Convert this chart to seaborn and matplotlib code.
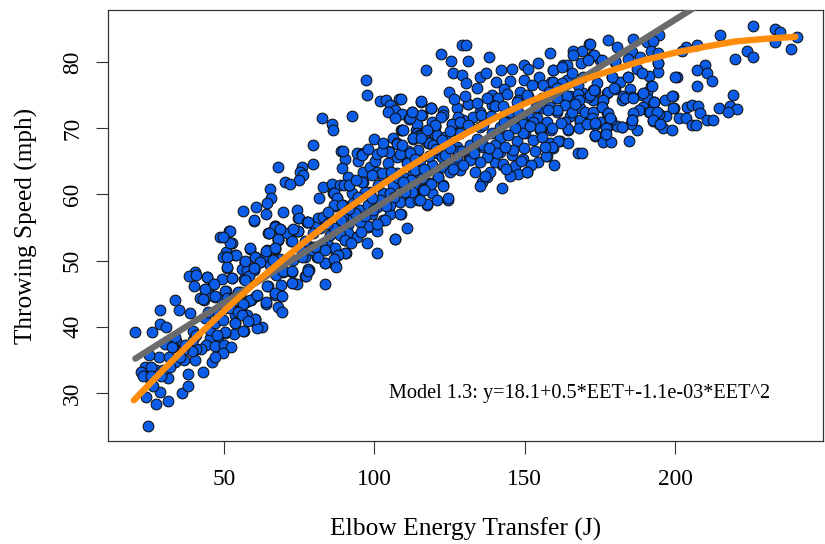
#!/usr/bin/env python3
import pandas as pd
import matplotlib
matplotlib.use("Agg")
import matplotlib.pyplot as plt
import seaborn as sns

# (elbow energy transfer, throwing speed), by region
low_eet = [
    (24.7, 25.0), (20.5, 39.2), (26.2, 39.2), (28.6, 42.5), (33.8, 44.1), (35, 42.6), (38.8, 42.1), (28.6, 40.4),
    (30.6, 40), (39.7, 39.4), (34.1, 37.9), (27.5, 28.4), (31.3, 28.8), (36.1, 30), (38, 31), (28.6, 30.2),
    (23.9, 29.4), (43, 33.2), (38, 32.8), (31.3, 32.2), (24.1, 33), (27.5, 33.5), (46, 34.7), (40.2, 35),
    (36.7, 35), (28.2, 35.5), (25.2, 35.8), (31.6, 35.4), (23.6, 34), (22.5, 33.2), (25.6, 31.5), (26.4, 31),
    (29.7, 33.5), (33.6, 34.7), (51.8, 54.4), (48.5, 53.6), (50.2, 53.6), (52.2, 52.6), (58.7, 51.8), (50.7, 51.3),
    (49.6, 50.6), (51.1, 50.6), (53.8, 50.8), (56.8, 49.8), (51.1, 48.9), (40.4, 48.3), (38.3, 47.6), (40.8, 47.8),
    (44.3, 47.5), (52.7, 47.4), (49.3, 47.2), (46.3, 46.5), (40, 46.2), (43.8, 45.7), (50.7, 45.4), (41.9, 44.3),
    (43.2, 44.1), (46.9, 44.5), (48.5, 44.3), (45.7, 44.8), (56.3, 48.8), (59.8, 48.7), (57.9, 47.6), (56.6, 47.2),
    (64.6, 46.1), (66.8, 51.8), (59.8, 56), (64.9, 54.1), (68.5, 54.6), (67.9, 53.1), (72.3, 52.9), (74.6, 54.4),
    (66.8, 55.2), (72.9, 50.1), (69.6, 49.8), (66.6, 49.8), (63.5, 50.6), (64, 51.3), (62.1, 49.8), (60.2, 50.6),
    (72.7, 48.3), (69, 46.3), (69.6, 48.3), (72.9, 46.6), (74.3, 46.5), (76.8, 47.6), (77.9, 48.6), (67.4, 47.8),
    (69, 44.7), (66.8, 44.8), (63.8, 43.5), (67.9, 43), (69.2, 42.3), (60.7, 44.7), (59, 44.1), (57.4, 43.8),
    (55.7, 42.9), (53.5, 41.8), (57, 41.8), (60.2, 41.2), (58.3, 41), (53.5, 40.5), (62.7, 40), (60.9, 39.8),
    (56.6, 39.3), (53.3, 38.9), (50.2, 39.1), (48, 38.4), (45.2, 38.3), (44.1, 37.2), (47.1, 37.1), (50, 37.2),
    (52.2, 37), (49.6, 36.1), (47.1, 35.4), (42.4, 36.7), (40.8, 36.7), (39.3, 36.4), (36.3, 36.5), (33, 37),
    (30.2, 37.4), (43.5, 41.3), (48, 42), (50.7, 42.8), (54.1, 44), (55.7, 45.3),
    (32.8, 37), (36.9, 37.2), (35.2, 35.5), (25.8, 34), (31.9, 34), (23, 32.5), (29.1, 32.5), (25.8, 32.5),
    (39.7, 38), (45.2, 39.5), (40.8, 38.8), (46.9, 40.5), (49.6, 41), (44.6, 42.3), (33.6, 38.5),
    (57, 49.8), (55.9, 48.8), (57.5, 48.6), (59.8, 48.6), (58.3, 47.7), (56.8, 47.1), (52.8, 47.4), (44.2, 47.5),
    (46.5, 46.5), (43.7, 45.7), (47, 44.6), (43.1, 44.2), (50.3, 45.4), (50.9, 44.3), (54.8, 45.3), (53.1, 44.3),
    (58.6, 44), (60.9, 44.8), (56.4, 43.5), (63.9, 43.7), (52, 42.8), (54.8, 42.3), (57.5, 41.8), (60.3, 41.2),
    (55.9, 41.8), (53.7, 40.5), (58.1, 40.9), (56.4, 39.3), (50.3, 39.2), (47.6, 38.8), (64.2, 46.1), (66.9, 45.1),
    (69.2, 44.6), (72.5, 46.6), (69.7, 48.4), (72.5, 48.4), (77.3, 47.7), (78.4, 48.6), (76.9, 50.6), (81, 50.6),
    (83.6, 49.6), (83.6, 46.5), (75.8, 51.4), (79.1, 52.1), (82.5, 51.6), (84.7, 52.4), (81.9, 54.9), (77.5, 55.9),
    (74.7, 56.4), (80.8, 55.9), (73, 54.6), (68, 53.1), (64.7, 54.1), (68.6, 54.8), (67, 55.3), (71, 54.1),
    (66.9, 51.9), (63.6, 50.6), (60.3, 50.6), (64.2, 51.6), (62, 49.8), (68.6, 50.3), (65.3, 49.3), (52.5, 52.6),
]
mid_eet = [
    (82.7, 71.5), (92.5, 71.8), (85.8, 70.6), (86.3, 69.8), (79.7, 67.5), (100, 68.4), (106.3, 68.5), (109, 69.8),
    (88.9, 66.5), (90.2, 65.3), (79.7, 64.6), (67.8, 64.1), (75.8, 64.2), (75.3, 63.4), (76.4, 62.9), (75, 62.2),
    (70.3, 61.8), (71.9, 61.6), (65.3, 60.8), (65.5, 59.4), (64.4, 58.7), (81.6, 59.4), (83, 61.1), (86, 61.6),
    (56.4, 57.5), (60.5, 58.1), (63.9, 57.1), (60, 56.1), (69.5, 57.3), (74.4, 57.7), (74.9, 56.5), (77.7, 55.9),
    (81.4, 56.4), (83, 56.6), (67, 55.1), (68.6, 54.7), (65, 54.1), (68, 53.2), (72.5, 52.9), (74.7, 54.5),
    (72.8, 54.7), (80.3, 55.1), (52, 54.4), (52, 52.6), (58.6, 51.9), (53.9, 50.8), (50.9, 50.6), (49.8, 53.6),
    (60.3, 50.6), (64, 51.4), (67, 51.9), (62, 49.8), (57, 49.9), (59.8, 48.9), (66.4, 50.1), (50.9, 49.1),
    (111, 54.9), (107, 53.3), (101, 51.1), (97.4, 52.6), (90.6, 51.2), (87.5, 50.8), (81, 50.6), (83.6, 49.7),
    (86.9, 49.3), (78, 48.7), (75.8, 50.6), (79.1, 51.6), (82.5, 52.4), (86.9, 51.6), (90.2, 53.1), (93.9, 53.6),
    (98, 55.1), (100.8, 54.5), (103, 56.1), (105.2, 57), (108.7, 57), (99.1, 57.1), (95.2, 56.4), (91.3, 55.4),
    (87.5, 54.9), (85.2, 53.9), (86.3, 60.2), (87.7, 59.4), (86.9, 58.2), (89.7, 58.4), (92.4, 60.2), (91.7, 61.4),
    (88.6, 61.4), (91.3, 62.7), (96.1, 63.4), (96.1, 61.8), (98.5, 64.2), (100.2, 65), (94.7, 65), (94.3, 66.2),
    (96.3, 66.2), (100.7, 66.1), (104.6, 66.5), (107.4, 67.7), (107.6, 65.7), (110.7, 65), (104.6, 64.7), (100.7, 63.4),
    (103, 62.4), (107.4, 63.2), (110.2, 62.4), (106.3, 61.4), (98.5, 60.4), (96.9, 60.4), (103, 60.2), (93, 58.7),
    (95.2, 57.7), (89.7, 56.6), (108.5, 58.9), (111.8, 59.2), (114, 59.4), (113.5, 61.4), (105.2, 58.4), (100.8, 58.1),
    (114, 69.7), (113, 68.5), (97.2, 77.3), (97.7, 75), (101.9, 74.1), (103.9, 74.3), (105.2, 73.5), (108.2, 74.4),
    (106.9, 72.8), (104.4, 72.4), (109.1, 72.1), (106.9, 71.5), (111.6, 71.4), (115.4, 74), (118.7, 73.1), (115.7, 72),
    (112.4, 72.5), (114.1, 70.7), (109.1, 69.8), (120.2, 70.4), (114.3, 69.2), (120.2, 69), (114.8, 69), (112.7, 68.4),
    (117.9, 67.7), (107.6, 67.6), (111.3, 66.5), (114.6, 66.7), (108.5, 66.1), (105, 66.4), (102.4, 66.5), (95.8, 66.1),
    (89.5, 66.5), (120.7, 66.2), (116.8, 68.2),
    (89.1, 64), (95.8, 65.9), (102.4, 63.2), (108, 62.4), (113, 63.2), (99.1, 62.9), (89.9, 61.4), (91.6, 61.4),
    (95.8, 61.8), (86.4, 60.2), (87.5, 59.4), (86.4, 58.4), (89.1, 58.4), (98, 58.4), (101.9, 59.2), (105.2, 60.2),
    (108.5, 57), (99.6, 57.6), (111.8, 58.9), (116.3, 60.7), (114.6, 59.2), (117.4, 58.4), (78, 55.9), (98, 55.2),
    (91.3, 54.1), (94.1, 53.6), (88.6, 53.9), (86.4, 54.9), (90.2, 53.1), (106.8, 53.2), (86.9, 51.9), (90.2, 51.1),
    (88, 50.8), (86.4, 50.3), (81.4, 50.6), (87.2, 49.1), (78, 48.5), (83.6, 51.6), (80.3, 52.1), (77, 52.9),
    (79.7, 54.1), (93, 56.4), (95.2, 55.9), (103.5, 56.1),
    (93.5, 57.2), (96.8, 56.8), (101, 55.6), (92.2, 52.6), (95.4, 54.3), (84.2, 55.6), (88.8, 56.2), (91.6, 57.8),
    (94.6, 59.6), (99.2, 59.5), (104, 58.2), (106.6, 59.6), (110, 60.8), (112.2, 62.2), (105.5, 63.4), (101.2, 61.4),
    (93.8, 62.2), (98, 66.8), (103, 67.8), (84.5, 57.4),
]
high_eet = [
    (129, 82.5), (130.4, 82.5), (122, 81.2), (125.5, 80.2), (131.2, 80.1), (138.2, 80.7), (158.4, 81.3), (117.2, 78.8),
    (171.5, 82.7), (166.1, 81.7), (168.9, 81.6), (126, 78.3), (129, 78), (130.5, 76.8), (135.1, 77.7), (137, 78.3),
    (134.2, 76), (142.1, 78.8), (145.9, 78.9), (124.7, 75.4), (140.3, 77), (145.1, 77.2), (149.8, 79.5), (151, 79),
    (154.3, 79.8), (149.7, 77.3), (154.7, 77.8), (159.5, 78.8), (162.8, 79.5), (164.1, 79.6), (168.7, 79.9), (166.1, 81),
    (172.8, 80.9), (158.9, 77), (156.2, 76.5), (152.3, 76.5), (148.4, 75.5), (143.1, 75.9), (139, 75), (141.2, 74.5),
    (139, 73.5), (147.9, 74.2), (131.2, 73.7), (127.4, 73), (122.9, 72.6), (118.7, 73.1), (115.4, 74.1), (108.8, 74.4),
    (111.9, 71.5), (115.4, 72), (112.4, 72.5), (109.4, 69.7), (119, 71), (120.2, 70.2), (122.9, 72), (125.7, 70.7),
    (129.6, 71.2), (135.1, 72.5), (131.8, 70.2), (125.7, 69.7), (120.7, 69), (115.2, 68.8), (113, 68.5), (118, 67.8),
    (123.5, 68.7), (128.5, 69.2), (135.1, 70.2), (139, 69.2), (141.8, 68.5), (147.3, 68), (150.1, 69.2), (155.1, 69.8),
    (158.9, 69.7), (164.5, 69.8), (165, 71.8), (168.4, 71), (170.6, 70.8), (173.3, 69), (158.4, 67.7), (161.7, 68),
    (164.5, 67.8), (159.5, 67), (167.8, 66.2), (168.9, 66.3), (157.3, 65.8), (154.5, 64.9), (149.5, 65.4), (149.7, 67),
    (145.6, 65.9), (146.8, 64.3), (152, 64.4), (159.7, 64.4), (150.9, 63.4), (147.9, 63.1), (145.1, 62.8), (142.3, 60.9),
    (142.3, 64.4), (140.1, 64.9), (137.3, 65.7), (135.1, 64.9), (131.6, 65.3), (126.3, 64.4), (122.9, 64.2), (119, 64.4),
    (133.5, 63.4), (128.5, 63.7), (125.1, 63.4), (137.3, 62.7), (135.7, 61.9), (135.1, 61.2), (138.4, 63.4), (122.9, 61.4),
    (121.3, 62.7), (118.5, 61.7), (116.3, 60.8), (119, 60.2), (124.6, 59.2), (120.9, 59.2), (117.6, 58.5), (115.2, 59.2),
    (112.4, 60.3), (110.2, 60.3), (109.6, 61.9), (115.7, 62.4), (113.5, 63.7), (110.7, 64.7), (115.2, 65.2), (111.9, 66.2),
    (109.1, 67.5), (119.6, 67.5), (122.4, 65.7), (127.4, 65.7), (136.2, 67.2), (141.8, 66.4), (154, 71.5), (160.6, 72.5),
    (156.2, 73), (165, 74.8), (160.6, 74.5), (155.6, 74.5), (151.2, 74.8), (169.5, 75.3), (172.8, 75.8), (167.8, 76.5),
    (163.9, 77.3), (172.8, 74.3), (168.4, 73), (157.3, 71), (151.2, 72), (145.1, 71.2), (141.8, 70.2), (145.1, 72.5),
    (149, 71.2),
    (118.7, 73), (122, 71.7), (131, 73.6), (127.9, 71.7), (132.9, 71.7), (135.5, 72), (140.1, 73.4), (142.9, 73.3),
    (147.3, 74), (150.6, 75), (125.9, 70.7), (120, 70.5), (117.4, 69.7), (128.5, 71), (131.2, 70.5), (136.2, 70.5),
    (125.2, 69.5), (122.4, 68.2), (115.5, 68.5), (149.5, 70.7), (152.9, 71), (155.1, 70), (149.5, 69.2), (146.8, 70),
    (140.1, 67.5), (136.2, 67.5), (131.8, 67.5), (127.4, 67.2), (123.5, 65.9), (127.9, 66.5), (131.8, 65.2), (140.7, 66.2),
    (146.2, 66.7), (157.1, 65.8), (142.9, 64.6), (150.6, 63.4), (136.8, 62.8), (129.6, 64.4), (116.5, 63.9), (121.3, 62.6),
    (118.7, 61.6), (122.9, 61.2), (126.3, 63.8), (116.5, 60.7), (124.6, 59.4),
    (159.5, 78.8), (162.3, 79.3), (165.6, 78.4), (159.5, 77), (162.3, 76.8), (169.5, 77.8), (164, 74.9), (160.6, 76),
    (167.8, 75.2), (171.2, 74.7), (168.1, 74.2), (158.4, 73.2), (163.4, 73.5), (165.6, 72.5), (160.6, 72.8), (157.6, 72.8),
    (168.4, 71.3), (163.4, 71), (159, 70), (164.3, 69.9), (168.1, 70), (161.2, 68), (159, 67.2),
    (134.2, 68.4), (138, 67), (143.5, 67.2), (144.6, 69), (152.6, 68.2), (155.8, 68.6), (133, 66.3), (129.2, 66.6),
    (125, 67), (120.6, 66.9), (118.2, 65.8), (113.4, 65.4), (143.8, 63.8), (148.8, 65), (153.4, 66.6), (156.6, 67.2),
    (151.6, 70.4), (147.6, 72.4), (143, 71), (138.8, 71.8), (134, 73.8), (137.4, 74.6), (144, 75.2), (153.8, 73.2),
    (158, 75.4), (162, 70.8), (166.8, 73.6), (170.2, 72.4), (130, 74.8), (126.4, 74.4),
]
top_eet = [
    (226, 85.5), (215.1, 84), (233.3, 85), (234.9, 84.6), (240.6, 83.7), (233.3, 83), (238.4, 81.9), (224, 81.7),
    (226, 80.7), (219.9, 80.4), (209.9, 79.6), (207.2, 78.8), (210.7, 78.3), (212.4, 77.1), (200.5, 77.8), (200, 77.8),
    (207.3, 76.3), (207.2, 82.6), (203.8, 82.2), (202.2, 81.7), (194.7, 84), (190.8, 83), (192.8, 83.1), (192, 81.7),
    (185.9, 83.4), (177.6, 83.3), (180.6, 82.3), (171.7, 82.7), (185.6, 81.5), (194.4, 81.4), (194.4, 79.9), (194.4, 78.5),
    (191.3, 77.9), (188.3, 80.8), (184.4, 80.4), (180, 80), (175, 80.3), (172.8, 81.1), (187.2, 78.9), (184.4, 77.8),
    (178.9, 77.8), (181.7, 76.9), (173.9, 76.8), (192, 76.4), (185, 75.9), (180, 75.9), (177.2, 75.3), (173.4, 75.6),
    (171.7, 75), (190.8, 75.4), (188.9, 75), (185.8, 74.7), (183.1, 74.6), (191.1, 74.4), (182.2, 74.3), (176.1, 74.3),
    (199.2, 74.8), (196.6, 74.3), (193, 73.9), (189.4, 73.2), (188.1, 72.8), (191.3, 72.5), (193.5, 72.5), (199.7, 73.1),
    (204, 73.2), (205.7, 73.5), (207.5, 73.3), (208.3, 72.3), (214.6, 73.1), (218.2, 73.4), (219.3, 75), (220.5, 72.9),
    (217.5, 72.5), (210.5, 71.3), (212.7, 71.2), (201.4, 71.5), (203.5, 71.5), (196.9, 71.8), (194.7, 72.2), (192.8, 71.1),
    (194.7, 70.6), (195.9, 70.1), (199.1, 69.8), (205.5, 70.5), (206.9, 70.5), (187.2, 69.7), (185.9, 72.3), (185.6, 71.3),
    (185.2, 70.7), (182.2, 70.2), (180.6, 70.4), (178.7, 71.3), (177.5, 72.3), (175.8, 73.2), (172.8, 72.5), (175, 71),
    (172.3, 71.5), (173.4, 70.5), (177.2, 70.2), (176.7, 69.1), (173.4, 68.8), (175.9, 67.9), (178.7, 67.9), (184.7, 68.1),
    (173, 81), (175.6, 80.3), (171.1, 80.3), (180, 80.1), (178.9, 77.7), (184.5, 77.7), (188.9, 78.4), (194.4, 79.8),
    (192.2, 76.4), (182.8, 74.8), (177.8, 75.4), (173.1, 75.7), (179.8, 76), (176.1, 74.3), (183.3, 74.5), (186.1, 74.6),
    (189.4, 75.3), (198.9, 74.9), (175.6, 73.2), (193.1, 73.9), (191.6, 72.5), (193.9, 72.5), (199.4, 73), (177.6, 72.3),
    (170.6, 70.7), (173.4, 70.8), (178.4, 71.5), (182.5, 70.2), (185.8, 71.2), (192.8, 71.2), (195, 70.7), (177, 70.1),
    (173.4, 69), (177, 69.1),
]

# fitted lines
linear_x = [20.5, 240]
linear_y = [35.2, 97.8]
quad_x = [20, 30, 40, 50, 60, 70, 80, 90, 100, 110, 120, 130, 140, 150, 160, 170, 180, 190, 200, 210, 220, 230, 240]
quad_y = [28.9, 33.6, 38.1, 42.4, 46.5, 50.3, 54, 57.5, 60.7, 63.7, 66.5, 69.1, 71.5, 73.7, 75.6, 77.4, 78.9, 80.3,
          81.4, 82.3, 83.1, 83.5, 83.8]

x_ticks = [50, 100, 150, 200]
y_ticks = [30, 40, 50, 60, 70, 80]

sns.set_style("white")
plt.rcParams["font.family"] = ["Liberation Serif", "DejaVu Serif"]
plt.rcParams["text.color"] = "black"
plt.rcParams["axes.labelcolor"] = "black"
plt.rcParams["xtick.color"] = "black"
plt.rcParams["ytick.color"] = "black"

df = pd.DataFrame(low_eet + mid_eet + high_eet + top_eet, columns=["eet", "speed"])

fig = plt.figure(figsize=(8.25, 5.44), dpi=100)
ax = fig.add_axes([108 / 825, 1 - 441 / 544, (823 - 108) / 825, (441 - 10) / 544])

sns.scatterplot(data=df, x="eet", y="speed", s=60, color="#0b5ce6", edgecolor="#101010", linewidth=0.75, ax=ax, zorder=2)
sns.lineplot(x=linear_x, y=linear_y, color="#6b6b6b", linewidth=4.6, ax=ax, zorder=3, solid_capstyle="round")
sns.lineplot(x=quad_x, y=quad_y, color="#ff8c0a", linewidth=4.6, ax=ax, zorder=4, solid_capstyle="round")

ax.set_xlim(11.4, 249.2)
ax.set_ylim(22.75, 87.85)
ax.set_xticks(x_ticks)
ax.set_yticks(y_ticks)
ax.tick_params(axis="both", length=9, width=0.8, color="#333333", labelsize=16.8, left=True, bottom=True)
ax.tick_params(axis="x", pad=11)
ax.tick_params(axis="y", pad=9)
for lab in ax.get_yticklabels():
    lab.set_rotation(90)
    lab.set_va("center")
for sp in ax.spines.values():
    sp.set_color("#333333")
    sp.set_linewidth(0.9)

ax.set_xlabel("Elbow Energy Transfer (J)", fontsize=18.4, labelpad=20)
ax.set_ylabel("Throwing Speed (mph)", fontsize=18.2, labelpad=17)
ax.text(168.2, 29.95, "Model 1.3: y=18.1+0.5*EET+-1.1e-03*EET^2", fontsize=14.6, ha="center", va="center")

fig.savefig("out.png", dpi=100)
